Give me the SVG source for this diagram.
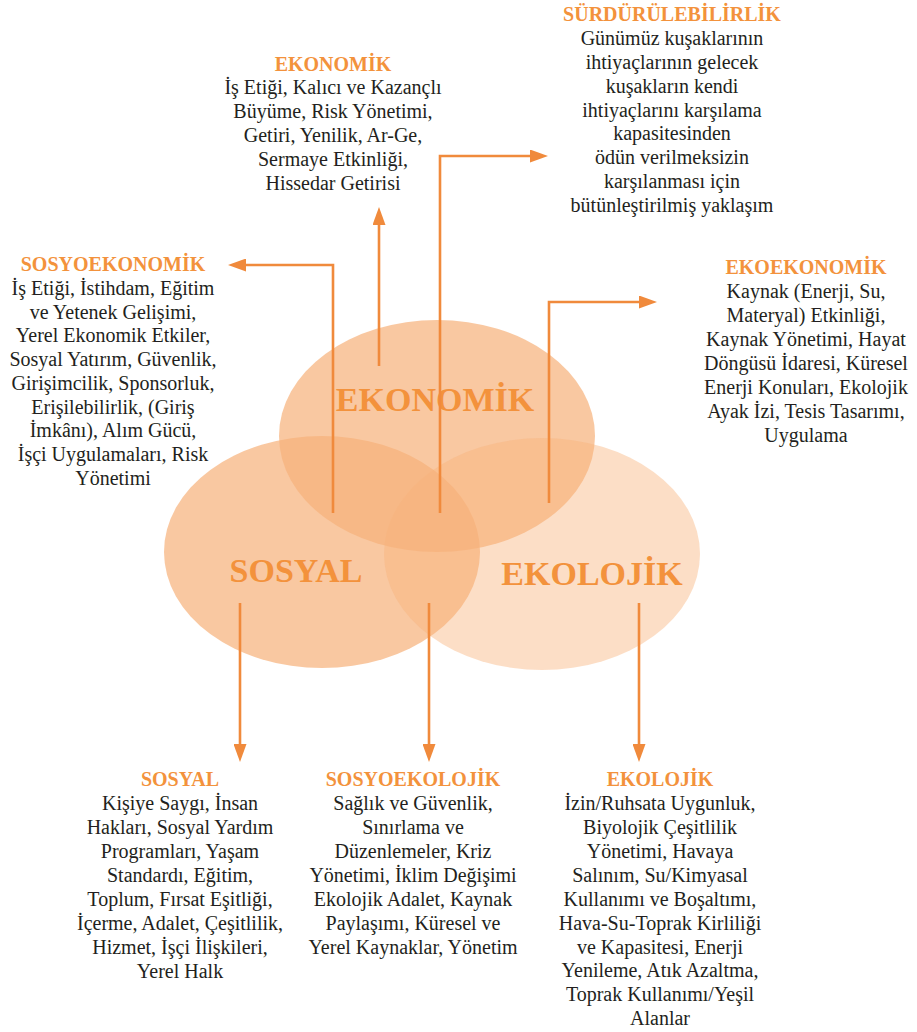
<svg xmlns="http://www.w3.org/2000/svg" width="917" height="1032" viewBox="0 0 917 1032">
<style>
.t{font-family:"Liberation Serif","DejaVu Serif",serif;font-size:20px;fill:#231f20;text-anchor:middle}
.h{font-family:"Liberation Serif","DejaVu Serif",serif;font-size:20px;font-weight:bold;fill:#f3923c;text-anchor:middle}
.big{font-family:"Liberation Serif","DejaVu Serif",serif;font-size:34px;font-weight:bold;fill:#f3923c;text-anchor:middle}
.el{fill:#f7b27a}
.c{fill:none;stroke:#f08a3c;stroke-width:2.6}
</style>
<defs>
<marker id="ah" markerUnits="userSpaceOnUse" markerWidth="18" markerHeight="13" viewBox="0 0 18 13" refX="1" refY="6.5" orient="auto">
<path d="M0,0 L18,6.5 L0,13 z" fill="#f08a3c"/>
</marker>
</defs>
<rect width="917" height="1032" fill="#fff"/>
<g id="circle-sosyal"><ellipse class="el" cx="322" cy="552" rx="158" ry="116" opacity="0.71"/></g>
<g id="circle-ekonomik"><ellipse class="el" cx="437" cy="436" rx="158" ry="116" opacity="0.71"/></g>
<g id="circle-ekolojik"><ellipse class="el" cx="542" cy="554" rx="158" ry="116" opacity="0.43"/></g>
<g id="labels-big">
<text class="big" x="435" y="411">EKONOMİK</text>
<text class="big" x="296" y="582">SOSYAL</text>
<text class="big" x="592" y="585">EKOLOJİK</text>
</g>
<g id="connectors">
<path class="c" d="M333,513 V265 H245" marker-end="url(#ah)"/>
<path class="c" d="M379,366 V224" marker-end="url(#ah)"/>
<path class="c" d="M440,513 V156 H531" marker-end="url(#ah)"/>
<path class="c" d="M549,503 V302 H640" marker-end="url(#ah)"/>
<path class="c" d="M240,603 V745" marker-end="url(#ah)"/>
<path class="c" d="M429,603 V745" marker-end="url(#ah)"/>
<path class="c" d="M639,603 V745" marker-end="url(#ah)"/>
</g>
<g id="ekonomik">
<text class="h" x="333" y="71">EKONOMİK</text>
<text class="t" x="333" y="94">İş Etiği, Kalıcı ve Kazançlı</text>
<text class="t" x="333" y="118">Büyüme, Risk Yönetimi,</text>
<text class="t" x="333" y="142">Getiri, Yenilik, Ar-Ge,</text>
<text class="t" x="333" y="166">Sermaye Etkinliği,</text>
<text class="t" x="333" y="190">Hissedar Getirisi</text>
</g>
<g id="surdurulebilirlik">
<text class="h" x="672" y="21">SÜRDÜRÜLEBİLİRLİK</text>
<text class="t" x="672" y="45">Günümüz kuşaklarının</text>
<text class="t" x="672" y="69">ihtiyaçlarının gelecek</text>
<text class="t" x="672" y="93">kuşakların kendi</text>
<text class="t" x="672" y="117">ihtiyaçlarını karşılama</text>
<text class="t" x="672" y="140">kapasitesinden</text>
<text class="t" x="672" y="164">ödün verilmeksizin</text>
<text class="t" x="672" y="188">karşılanması için</text>
<text class="t" x="672" y="212">bütünleştirilmiş yaklaşım</text>
</g>
<g id="sosyoekonomik">
<text class="h" x="113" y="271">SOSYOEKONOMİK</text>
<text class="t" x="113" y="295">İş Etiği, İstihdam, Eğitim</text>
<text class="t" x="113" y="319">ve Yetenek Gelişimi,</text>
<text class="t" x="113" y="342">Yerel Ekonomik Etkiler,</text>
<text class="t" x="113" y="366">Sosyal Yatırım, Güvenlik,</text>
<text class="t" x="113" y="390">Girişimcilik, Sponsorluk,</text>
<text class="t" x="113" y="414">Erişilebilirlik, (Giriş</text>
<text class="t" x="113" y="437">İmkânı), Alım Gücü,</text>
<text class="t" x="113" y="461">İşçi Uygulamaları, Risk</text>
<text class="t" x="113" y="485">Yönetimi</text>
</g>
<g id="ekoekonomik">
<text class="h" x="806" y="274">EKOEKONOMİK</text>
<text class="t" x="806" y="298">Kaynak (Enerji, Su,</text>
<text class="t" x="806" y="322">Materyal) Etkinliği,</text>
<text class="t" x="806" y="346">Kaynak Yönetimi, Hayat</text>
<text class="t" x="806" y="370">Döngüsü İdaresi, Küresel</text>
<text class="t" x="806" y="394">Enerji Konuları, Ekolojik</text>
<text class="t" x="806" y="418">Ayak İzi, Tesis Tasarımı,</text>
<text class="t" x="806" y="442">Uygulama</text>
</g>
<g id="sosyal">
<text class="h" x="180" y="786">SOSYAL</text>
<text class="t" x="180" y="810">Kişiye Saygı, İnsan</text>
<text class="t" x="180" y="834">Hakları, Sosyal Yardım</text>
<text class="t" x="180" y="858">Programları, Yaşam</text>
<text class="t" x="180" y="882">Standardı, Eğitim,</text>
<text class="t" x="180" y="906">Toplum, Fırsat Eşitliği,</text>
<text class="t" x="180" y="930">İçerme, Adalet, Çeşitlilik,</text>
<text class="t" x="180" y="954">Hizmet, İşçi İlişkileri,</text>
<text class="t" x="180" y="978">Yerel Halk</text>
</g>
<g id="sosyoekolojik">
<text class="h" x="413" y="786">SOSYOEKOLOJİK</text>
<text class="t" x="413" y="810">Sağlık ve Güvenlik,</text>
<text class="t" x="413" y="834">Sınırlama ve</text>
<text class="t" x="413" y="858">Düzenlemeler, Kriz</text>
<text class="t" x="413" y="882">Yönetimi, İklim Değişimi</text>
<text class="t" x="413" y="906">Ekolojik Adalet, Kaynak</text>
<text class="t" x="413" y="930">Paylaşımı, Küresel ve</text>
<text class="t" x="413" y="954">Yerel Kaynaklar, Yönetim</text>
</g>
<g id="ekolojik">
<text class="h" x="660" y="786">EKOLOJİK</text>
<text class="t" x="660" y="810">İzin/Ruhsata Uygunluk,</text>
<text class="t" x="660" y="834">Biyolojik Çeşitlilik</text>
<text class="t" x="660" y="858">Yönetimi, Havaya</text>
<text class="t" x="660" y="882">Salınım, Su/Kimyasal</text>
<text class="t" x="660" y="906">Kullanımı ve Boşaltımı,</text>
<text class="t" x="660" y="930">Hava-Su-Toprak Kirliliği</text>
<text class="t" x="660" y="954">ve Kapasitesi, Enerji</text>
<text class="t" x="660" y="977">Yenileme, Atık Azaltma,</text>
<text class="t" x="660" y="1001">Toprak Kullanımı/Yeşil</text>
<text class="t" x="660" y="1025">Alanlar</text>
</g>
</svg>
